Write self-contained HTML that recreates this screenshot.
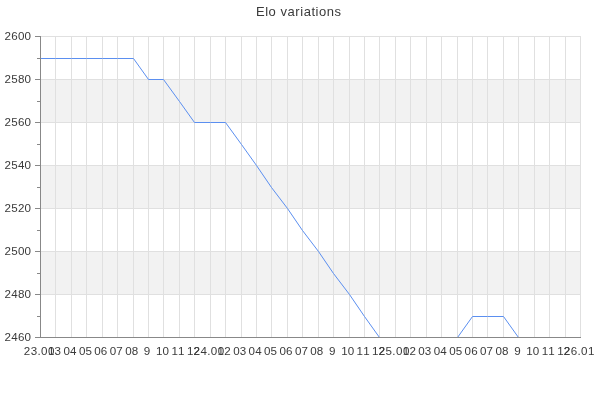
<!DOCTYPE html>
<html><head><meta charset="utf-8"><style>
html,body{margin:0;padding:0;background:#fff;width:600px;height:400px;overflow:hidden}
svg{display:block;will-change:transform}
text{font-family:"Liberation Sans", sans-serif;font-size:11.6px;fill:#3a3a3a}
.title{font-size:13px}
</style></head><body>
<svg width="600" height="400" viewBox="0 0 600 400" shape-rendering="auto">
<rect width="600" height="400" fill="#fff"/>
<rect x="41" y="79" width="540" height="43" fill="#f2f2f2"/>
<rect x="41" y="165" width="540" height="43" fill="#f2f2f2"/>
<rect x="41" y="251" width="540" height="43" fill="#f2f2f2"/>
<rect x="41" y="36" width="540" height="1" fill="#e0e0e0"/>
<rect x="41" y="79" width="540" height="1" fill="#e0e0e0"/>
<rect x="41" y="122" width="540" height="1" fill="#e0e0e0"/>
<rect x="41" y="165" width="540" height="1" fill="#e0e0e0"/>
<rect x="41" y="208" width="540" height="1" fill="#e0e0e0"/>
<rect x="41" y="251" width="540" height="1" fill="#e0e0e0"/>
<rect x="41" y="294" width="540" height="1" fill="#e0e0e0"/>
<rect x="55" y="36" width="1" height="301" fill="#e0e0e0"/>
<rect x="71" y="36" width="1" height="301" fill="#e0e0e0"/>
<rect x="86" y="36" width="1" height="301" fill="#e0e0e0"/>
<rect x="102" y="36" width="1" height="301" fill="#e0e0e0"/>
<rect x="117" y="36" width="1" height="301" fill="#e0e0e0"/>
<rect x="133" y="36" width="1" height="301" fill="#e0e0e0"/>
<rect x="148" y="36" width="1" height="301" fill="#e0e0e0"/>
<rect x="163" y="36" width="1" height="301" fill="#e0e0e0"/>
<rect x="179" y="36" width="1" height="301" fill="#e0e0e0"/>
<rect x="194" y="36" width="1" height="301" fill="#e0e0e0"/>
<rect x="210" y="36" width="1" height="301" fill="#e0e0e0"/>
<rect x="225" y="36" width="1" height="301" fill="#e0e0e0"/>
<rect x="241" y="36" width="1" height="301" fill="#e0e0e0"/>
<rect x="256" y="36" width="1" height="301" fill="#e0e0e0"/>
<rect x="271" y="36" width="1" height="301" fill="#e0e0e0"/>
<rect x="287" y="36" width="1" height="301" fill="#e0e0e0"/>
<rect x="302" y="36" width="1" height="301" fill="#e0e0e0"/>
<rect x="318" y="36" width="1" height="301" fill="#e0e0e0"/>
<rect x="333" y="36" width="1" height="301" fill="#e0e0e0"/>
<rect x="349" y="36" width="1" height="301" fill="#e0e0e0"/>
<rect x="364" y="36" width="1" height="301" fill="#e0e0e0"/>
<rect x="379" y="36" width="1" height="301" fill="#e0e0e0"/>
<rect x="395" y="36" width="1" height="301" fill="#e0e0e0"/>
<rect x="410" y="36" width="1" height="301" fill="#e0e0e0"/>
<rect x="426" y="36" width="1" height="301" fill="#e0e0e0"/>
<rect x="441" y="36" width="1" height="301" fill="#e0e0e0"/>
<rect x="457" y="36" width="1" height="301" fill="#e0e0e0"/>
<rect x="472" y="36" width="1" height="301" fill="#e0e0e0"/>
<rect x="487" y="36" width="1" height="301" fill="#e0e0e0"/>
<rect x="503" y="36" width="1" height="301" fill="#e0e0e0"/>
<rect x="518" y="36" width="1" height="301" fill="#e0e0e0"/>
<rect x="534" y="36" width="1" height="301" fill="#e0e0e0"/>
<rect x="549" y="36" width="1" height="301" fill="#e0e0e0"/>
<rect x="565" y="36" width="1" height="301" fill="#e0e0e0"/>
<rect x="580" y="36" width="1" height="301" fill="#e0e0e0"/>
<polyline points="40.50,58.50 55.50,58.50 71.50,58.50 86.50,58.50 102.50,58.50 117.50,58.50 133.50,58.50 148.50,79.50 163.50,79.50 179.50,101.50 194.50,122.50 210.50,122.50 225.50,122.50 241.50,144.50 256.50,165.50 271.50,187.50 287.50,208.50 302.50,230.50 318.50,251.50 333.50,273.50 349.50,294.50 364.50,316.50 379.50,337.50 395.50,337.50 410.50,337.50 426.50,337.50 441.50,337.50 457.50,337.50 472.50,316.50 487.50,316.50 503.50,316.50 518.50,337.50 534.50,337.50 549.50,337.50 565.50,337.50 580.50,337.50" fill="none" stroke="#5b8ff0" stroke-width="1" stroke-linejoin="miter"/>
<rect x="40" y="36" width="1" height="302" fill="#888888"/>
<rect x="40" y="337" width="541" height="1" fill="#888888"/>
<rect x="35" y="36" width="5" height="1" fill="#888888"/>
<rect x="35" y="79" width="5" height="1" fill="#888888"/>
<rect x="35" y="122" width="5" height="1" fill="#888888"/>
<rect x="35" y="165" width="5" height="1" fill="#888888"/>
<rect x="35" y="208" width="5" height="1" fill="#888888"/>
<rect x="35" y="251" width="5" height="1" fill="#888888"/>
<rect x="35" y="294" width="5" height="1" fill="#888888"/>
<rect x="35" y="337" width="5" height="1" fill="#888888"/>
<rect x="37" y="58" width="3" height="1" fill="#888888"/>
<rect x="37" y="101" width="3" height="1" fill="#888888"/>
<rect x="37" y="144" width="3" height="1" fill="#888888"/>
<rect x="37" y="187" width="3" height="1" fill="#888888"/>
<rect x="37" y="230" width="3" height="1" fill="#888888"/>
<rect x="37" y="273" width="3" height="1" fill="#888888"/>
<rect x="37" y="316" width="3" height="1" fill="#888888"/>
<text x="31" y="40" text-anchor="end" textLength="26.4" lengthAdjust="spacing">2600</text>
<text x="31" y="83" text-anchor="end" textLength="26.4" lengthAdjust="spacing">2580</text>
<text x="31" y="126" text-anchor="end" textLength="26.4" lengthAdjust="spacing">2560</text>
<text x="31" y="169" text-anchor="end" textLength="26.4" lengthAdjust="spacing">2540</text>
<text x="31" y="212" text-anchor="end" textLength="26.4" lengthAdjust="spacing">2520</text>
<text x="31" y="255" text-anchor="end" textLength="26.4" lengthAdjust="spacing">2500</text>
<text x="31" y="298" text-anchor="end" textLength="26.4" lengthAdjust="spacing">2480</text>
<text x="31" y="341" text-anchor="end" textLength="26.4" lengthAdjust="spacing">2460</text>
<text x="39.10" y="355" text-anchor="middle" textLength="30.5" lengthAdjust="spacing">23.01</text>
<text x="54.53" y="355" text-anchor="middle" textLength="13.0" lengthAdjust="spacing">03</text>
<text x="69.96" y="355" text-anchor="middle" textLength="13.0" lengthAdjust="spacing">04</text>
<text x="85.39" y="355" text-anchor="middle" textLength="13.0" lengthAdjust="spacing">05</text>
<text x="100.81" y="355" text-anchor="middle" textLength="13.0" lengthAdjust="spacing">06</text>
<text x="116.24" y="355" text-anchor="middle" textLength="13.0" lengthAdjust="spacing">07</text>
<text x="131.67" y="355" text-anchor="middle" textLength="13.0" lengthAdjust="spacing">08</text>
<text x="147.10" y="355" text-anchor="middle" textLength="6.0" lengthAdjust="spacing">9</text>
<text x="162.53" y="355" text-anchor="middle" textLength="13.0" lengthAdjust="spacing">10</text>
<text x="177.96" y="355" text-anchor="middle" textLength="13.0" lengthAdjust="spacing">11</text>
<text x="193.39" y="355" text-anchor="middle" textLength="13.0" lengthAdjust="spacing">12</text>
<text x="208.81" y="355" text-anchor="middle" textLength="30.5" lengthAdjust="spacing">24.01</text>
<text x="224.24" y="355" text-anchor="middle" textLength="13.0" lengthAdjust="spacing">02</text>
<text x="239.67" y="355" text-anchor="middle" textLength="13.0" lengthAdjust="spacing">03</text>
<text x="255.10" y="355" text-anchor="middle" textLength="13.0" lengthAdjust="spacing">04</text>
<text x="270.53" y="355" text-anchor="middle" textLength="13.0" lengthAdjust="spacing">05</text>
<text x="285.96" y="355" text-anchor="middle" textLength="13.0" lengthAdjust="spacing">06</text>
<text x="301.39" y="355" text-anchor="middle" textLength="13.0" lengthAdjust="spacing">07</text>
<text x="316.81" y="355" text-anchor="middle" textLength="13.0" lengthAdjust="spacing">08</text>
<text x="332.24" y="355" text-anchor="middle" textLength="6.0" lengthAdjust="spacing">9</text>
<text x="347.67" y="355" text-anchor="middle" textLength="13.0" lengthAdjust="spacing">10</text>
<text x="363.10" y="355" text-anchor="middle" textLength="13.0" lengthAdjust="spacing">11</text>
<text x="378.53" y="355" text-anchor="middle" textLength="13.0" lengthAdjust="spacing">12</text>
<text x="393.96" y="355" text-anchor="middle" textLength="30.5" lengthAdjust="spacing">25.01</text>
<text x="409.39" y="355" text-anchor="middle" textLength="13.0" lengthAdjust="spacing">02</text>
<text x="424.81" y="355" text-anchor="middle" textLength="13.0" lengthAdjust="spacing">03</text>
<text x="440.24" y="355" text-anchor="middle" textLength="13.0" lengthAdjust="spacing">04</text>
<text x="455.67" y="355" text-anchor="middle" textLength="13.0" lengthAdjust="spacing">05</text>
<text x="471.10" y="355" text-anchor="middle" textLength="13.0" lengthAdjust="spacing">06</text>
<text x="486.53" y="355" text-anchor="middle" textLength="13.0" lengthAdjust="spacing">07</text>
<text x="501.96" y="355" text-anchor="middle" textLength="13.0" lengthAdjust="spacing">08</text>
<text x="517.39" y="355" text-anchor="middle" textLength="6.0" lengthAdjust="spacing">9</text>
<text x="532.81" y="355" text-anchor="middle" textLength="13.0" lengthAdjust="spacing">10</text>
<text x="548.24" y="355" text-anchor="middle" textLength="13.0" lengthAdjust="spacing">11</text>
<text x="563.67" y="355" text-anchor="middle" textLength="13.0" lengthAdjust="spacing">12</text>
<text x="579.10" y="355" text-anchor="middle" textLength="30.5" lengthAdjust="spacing">26.01</text>
<text x="298.5" y="16" text-anchor="middle" class="title" textLength="85" lengthAdjust="spacing">Elo variations</text>
</svg></body></html>
